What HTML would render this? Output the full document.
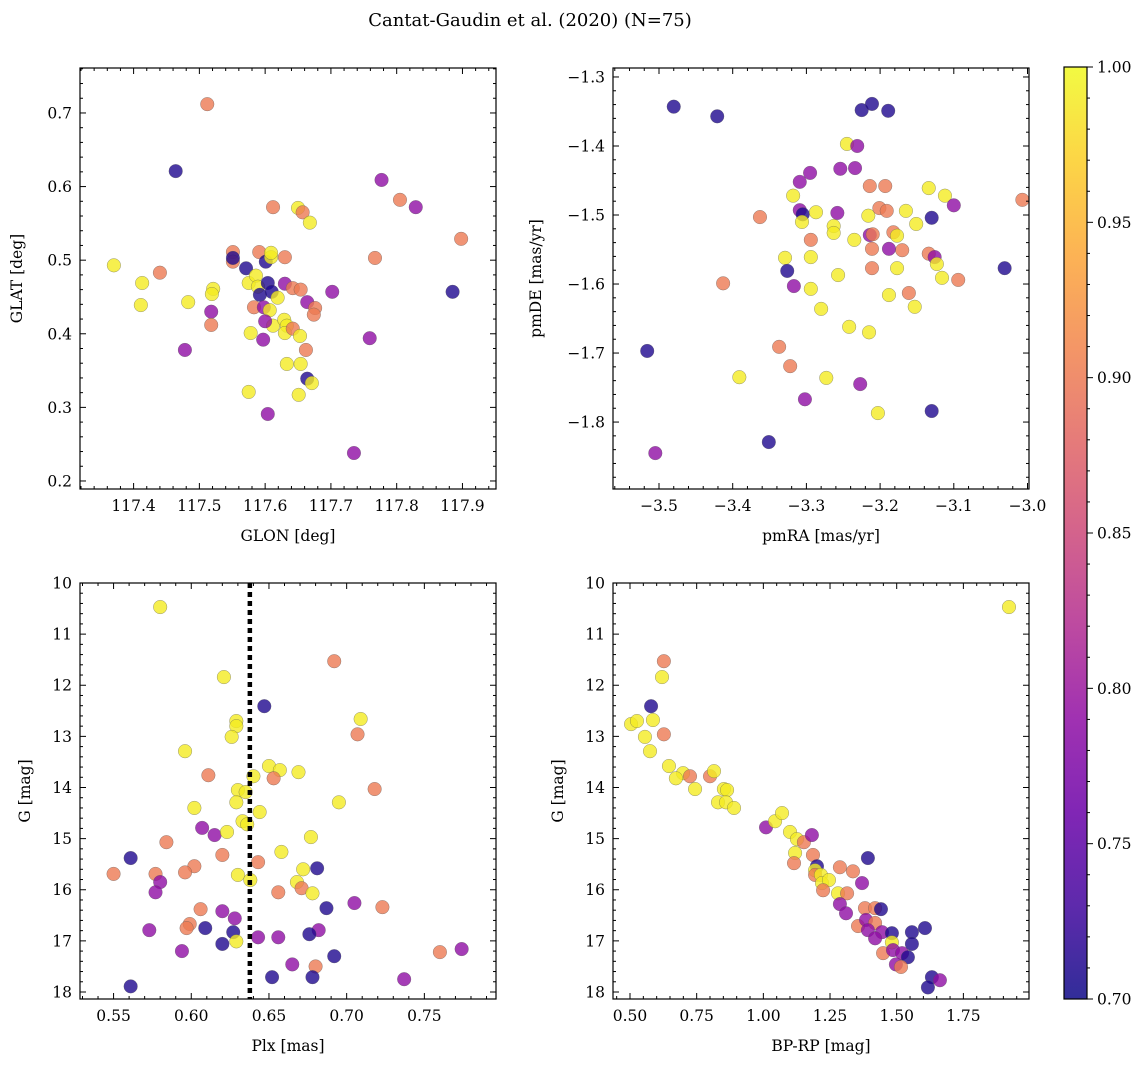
<!DOCTYPE html>
<html><head><meta charset="utf-8">
<style>
html,body{margin:0;padding:0;background:#fff;}
svg text{font-family:"DejaVu Serif","Liberation Serif",serif;fill:#000;}
</style></head>
<body>
<svg id="fig" width="1148" height="1067" viewBox="0 0 1148 1067" xmlns="http://www.w3.org/2000/svg">
<text x="530" y="26" font-size="18" text-anchor="middle">Cantat-Gaudin et al. (2020) (N=75)</text>
</svg>
<script>
// ---- data (Y≈0.99, O≈0.90, M≈0.79, D≈0.71) ----
const glon=[117.512,117.464,117.777,117.805,117.829,117.898,117.612,117.650,117.657,117.668,117.370,117.413,117.440,117.411,117.483,117.521,117.519,117.478,117.518,117.518,117.551,117.551,117.551,117.571,117.591,117.601,117.609,117.630,117.575,117.586,117.589,117.592,117.604,117.610,117.619,117.630,117.642,117.654,117.583,117.598,117.607,117.612,117.600,117.578,117.597,117.664,117.676,117.674,117.702,117.629,117.633,117.630,117.642,117.653,117.662,117.633,117.654,117.664,117.671,117.575,117.651,117.604,117.735,117.759,117.767,117.885,117.609];
const glat=[0.712,0.621,0.609,0.582,0.572,0.529,0.572,0.571,0.565,0.551,0.493,0.469,0.483,0.439,0.443,0.461,0.454,0.378,0.430,0.412,0.511,0.498,0.503,0.489,0.511,0.498,0.504,0.504,0.469,0.479,0.464,0.453,0.469,0.457,0.449,0.468,0.462,0.460,0.436,0.436,0.432,0.411,0.417,0.401,0.392,0.443,0.435,0.426,0.457,0.419,0.411,0.401,0.407,0.397,0.378,0.359,0.359,0.339,0.333,0.321,0.317,0.291,0.238,0.394,0.503,0.457,0.510];
const probPos=[0.90,0.71,0.79,0.90,0.79,0.90,0.90,0.99,0.90,0.99,0.99,0.99,0.90,0.99,0.99,0.99,0.99,0.79,0.79,0.90,0.90,0.90,0.71,0.71,0.90,0.71,0.99,0.90,0.99,0.99,0.99,0.71,0.71,0.71,0.99,0.79,0.90,0.90,0.90,0.79,0.99,0.99,0.79,0.99,0.79,0.79,0.90,0.90,0.79,0.99,0.99,0.99,0.90,0.99,0.90,0.99,0.99,0.71,0.99,0.99,0.99,0.79,0.79,0.79,0.90,0.71,0.99];

const pmra=[-3.480,-3.421,-3.225,-3.211,-3.189,-3.245,-3.231,-3.295,-3.254,-3.234,-3.309,-3.318,-3.214,-3.193,-3.134,-3.112,-3.100,-3.007,-3.363,-3.309,-3.305,-3.287,-3.306,-3.258,-3.263,-3.263,-3.216,-3.201,-3.191,-3.165,-3.151,-3.130,-3.235,-3.294,-3.214,-3.210,-3.182,-3.170,-3.188,-3.211,-3.177,-3.134,-3.126,-3.123,-3.116,-3.094,-3.031,-3.211,-3.177,-3.257,-3.294,-3.329,-3.326,-3.294,-3.317,-3.280,-3.188,-3.161,-3.153,-3.413,-3.242,-3.215,-3.516,-3.337,-3.322,-3.391,-3.273,-3.227,-3.302,-3.203,-3.130,-3.351,-3.505];
const pmde=[-1.343,-1.357,-1.348,-1.339,-1.349,-1.397,-1.400,-1.439,-1.433,-1.432,-1.452,-1.472,-1.458,-1.458,-1.461,-1.472,-1.486,-1.478,-1.503,-1.493,-1.499,-1.496,-1.510,-1.497,-1.516,-1.526,-1.501,-1.490,-1.494,-1.494,-1.513,-1.504,-1.536,-1.536,-1.529,-1.528,-1.525,-1.551,-1.549,-1.549,-1.530,-1.556,-1.561,-1.571,-1.591,-1.594,-1.577,-1.577,-1.577,-1.587,-1.561,-1.562,-1.581,-1.607,-1.603,-1.636,-1.616,-1.613,-1.633,-1.599,-1.662,-1.670,-1.697,-1.691,-1.719,-1.735,-1.736,-1.745,-1.767,-1.787,-1.784,-1.829,-1.845];
const probPm=[0.71,0.71,0.71,0.71,0.71,0.99,0.79,0.79,0.79,0.79,0.79,0.99,0.90,0.90,0.99,0.99,0.79,0.90,0.90,0.79,0.71,0.99,0.99,0.79,0.99,0.99,0.99,0.90,0.90,0.99,0.99,0.71,0.99,0.90,0.79,0.90,0.90,0.90,0.79,0.90,0.99,0.90,0.79,0.99,0.99,0.90,0.71,0.90,0.99,0.99,0.99,0.99,0.71,0.99,0.79,0.99,0.99,0.90,0.99,0.90,0.99,0.99,0.71,0.90,0.90,0.99,0.99,0.79,0.79,0.99,0.71,0.71,0.79];

const plx=[0.580,0.692,0.621,0.647,0.629,0.629,0.709,0.707,0.626,0.596,0.650,0.657,0.669,0.611,0.640,0.653,0.630,0.635,0.629,0.718,0.695,0.602,0.644,0.633,0.636,0.677,0.607,0.615,0.623,0.584,0.620,0.658,0.561,0.643,0.602,0.681,0.672,0.550,0.577,0.596,0.630,0.638,0.580,0.668,0.577,0.671,0.656,0.678,0.687,0.705,0.723,0.606,0.620,0.628,0.599,0.597,0.609,0.573,0.627,0.682,0.676,0.629,0.643,0.656,0.620,0.594,0.692,0.665,0.760,0.774,0.680,0.652,0.678,0.737,0.561];
const gmagA=[10.47,11.53,11.84,12.41,12.70,12.80,12.66,12.96,13.01,13.29,13.58,13.66,13.70,13.76,13.78,13.82,14.05,14.09,14.29,14.03,14.29,14.40,14.48,14.66,14.72,14.97,14.79,14.93,14.87,15.07,15.32,15.26,15.38,15.46,15.54,15.58,15.60,15.69,15.69,15.66,15.71,15.81,15.85,15.85,16.05,15.97,16.05,16.07,16.36,16.26,16.34,16.38,16.42,16.56,16.67,16.75,16.75,16.79,16.83,16.79,16.87,17.01,16.93,16.93,17.06,17.20,17.30,17.46,17.22,17.16,17.50,17.71,17.71,17.75,17.89];
const probPlx=[0.99,0.90,0.99,0.71,0.99,0.99,0.99,0.90,0.99,0.99,0.99,0.99,0.99,0.90,0.99,0.90,0.99,0.99,0.99,0.90,0.99,0.99,0.99,0.99,0.99,0.99,0.79,0.79,0.99,0.90,0.90,0.99,0.71,0.90,0.90,0.71,0.99,0.90,0.90,0.90,0.99,0.99,0.79,0.99,0.79,0.90,0.90,0.99,0.71,0.79,0.90,0.90,0.79,0.79,0.90,0.90,0.71,0.79,0.71,0.79,0.71,0.99,0.79,0.79,0.71,0.79,0.71,0.79,0.90,0.79,0.90,0.71,0.71,0.79,0.71];
const plxCut=0.6377;

const bprp=[1.921,0.627,0.620,0.579,0.504,0.526,0.586,0.556,0.627,0.575,0.646,0.699,0.725,0.672,0.744,0.800,0.815,0.852,0.864,0.830,0.860,0.890,1.010,1.044,1.070,1.100,1.126,1.152,1.182,1.119,1.115,1.186,1.201,1.194,1.194,1.216,1.220,1.246,1.224,1.287,1.336,1.392,1.370,1.280,1.314,1.287,1.310,1.381,1.419,1.441,1.355,1.385,1.419,1.392,1.445,1.419,1.482,1.482,1.449,1.486,1.520,1.542,1.497,1.516,1.557,1.606,1.557,1.632,1.617,1.662];
const gmagB=[10.47,11.53,11.84,12.41,12.76,12.70,12.68,13.01,12.96,13.29,13.58,13.72,13.78,13.82,14.03,13.78,13.68,14.03,14.05,14.29,14.29,14.40,14.78,14.66,14.50,14.87,15.01,15.07,14.93,15.28,15.48,15.32,15.54,15.62,15.71,15.71,15.87,15.81,16.01,15.56,15.64,15.38,15.87,16.07,16.07,16.28,16.46,16.36,16.36,16.38,16.71,16.59,16.65,16.79,16.83,16.95,16.85,17.03,17.24,17.18,17.24,17.32,17.46,17.51,16.83,16.75,17.06,17.71,17.91,17.77];
const probCmd=[0.99,0.90,0.99,0.71,0.99,0.99,0.99,0.99,0.90,0.99,0.99,0.99,0.90,0.99,0.99,0.90,0.99,0.99,0.99,0.99,0.99,0.99,0.79,0.99,0.99,0.99,0.99,0.90,0.79,0.99,0.90,0.90,0.71,0.99,0.90,0.99,0.99,0.99,0.90,0.90,0.90,0.71,0.79,0.99,0.90,0.79,0.79,0.90,0.90,0.71,0.90,0.79,0.90,0.79,0.79,0.79,0.71,0.99,0.90,0.79,0.79,0.71,0.79,0.90,0.71,0.71,0.71,0.71,0.71,0.79];

const cbTicks=[0.70,0.75,0.80,0.85,0.90,0.95,1.00];

// ---- plasma colormap ----
const plasma=["#0d0887","#41049d","#6a00a8","#8f0da4","#b12a90","#cc4778","#e16462","#f2844b","#fca636","#fcce25","#f0f921"];
function hex(h){return [parseInt(h.slice(1,3),16),parseInt(h.slice(3,5),16),parseInt(h.slice(5,7),16)];}
function cmap(v){let t=(v-0.7)/0.3;t=Math.max(0,Math.min(1,t));const f=t*10,i=Math.min(9,Math.floor(f)),r=f-i;const a=hex(plasma[i]),b=hex(plasma[i+1]);return 'rgb('+a.map((c,k)=>Math.round(c+(b[k]-c)*r)).join(',')+')';}

const NS='http://www.w3.org/2000/svg';
const svg=document.getElementById('fig');
function mk(tag,attrs,parent){const e=document.createElementNS(NS,tag);for(const k in attrs)e.setAttribute(k,attrs[k]);(parent||svg).appendChild(e);return e;}
function fmt(v,d){return (v<0?'\u2212':'')+Math.abs(v).toFixed(d);}
const TFS=15.5, LFS=15.5;

function panel(o){
  const g=mk('g',{});
  
  
  const sx=v=>o.L+(v-o.x0)/(o.x1-o.x0)*o.W;
  const sy=v=>o.T+(v-o.y0)/(o.y1-o.y0)*o.H;
  const pg=mk('g',{},g);
  
  
  for(let i=0;i<o.xs.length;i++){
    const c=mk('circle',{cx:sx(o.xs[i]),cy:sy(o.ys[i]),r:6.8,fill:cmap(o.ps[i]),'fill-opacity':0.8,stroke:'#555','stroke-opacity':0.6,'stroke-width':0.5},pg);
    
    
  }
  if(o.vline!==undefined){
    const l=mk('line',{x1:sx(o.vline),x2:sx(o.vline),y1:o.T,y2:o.T+o.H,stroke:'#000','stroke-width':4.5,'stroke-dasharray':'5,4'},g);
    
    
  }
  const tg=mk('g',{stroke:'#000','stroke-width':1},g);
  
  
  const lo=Math.min(o.x0,o.x1),hi=Math.max(o.x0,o.x1);
  for(let k=Math.ceil(lo/o.xm-1e-6);k*o.xm<=hi+1e-9;k++){const v=k*o.xm,x=sx(v);const maj=Math.abs(v/o.xM-Math.round(v/o.xM))<1e-6;const len=maj?6:3;
    mk('line',{x1:x,x2:x,y1:o.T+o.H,y2:o.T+o.H-len},tg);mk('line',{x1:x,x2:x,y1:o.T,y2:o.T+len},tg);
    if(maj){const t=mk('text',{x:x,y:o.T+o.H+22,'font-size':TFS,'text-anchor':'middle',stroke:'none'},g);t.textContent=fmt(v,o.xd);}}
  const ylo=Math.min(o.y0,o.y1),yhi=Math.max(o.y0,o.y1);
  for(let k=Math.ceil(ylo/o.ym-1e-6);k*o.ym<=yhi+1e-9;k++){const v=k*o.ym,y=sy(v);const maj=Math.abs(v/o.yM-Math.round(v/o.yM))<1e-6;const len=maj?6:3;
    mk('line',{x1:o.L,x2:o.L+len,y1:y,y2:y},tg);mk('line',{x1:o.L+o.W,x2:o.L+o.W-len,y1:y,y2:y},tg);
    if(maj){const t=mk('text',{x:o.L-8,y:y+5.5,'font-size':TFS,'text-anchor':'end',stroke:'none'},g);t.textContent=fmt(v,o.yd);}}
  const fr=mk('rect',{x:o.L,y:o.T,width:o.W,height:o.H,fill:'none',stroke:'#000','stroke-width':1.2},g);
  
  
  const xl=mk('text',{x:o.L+o.W/2,y:o.T+o.H+52,'font-size':LFS,'text-anchor':'middle'},g);xl.textContent=o.xl;
  
  
  const yx=o.L-o.ylo, yy=o.T+o.H/2;
  const yl=mk('text',{x:yx,y:yy,'font-size':LFS,'text-anchor':'middle',transform:'rotate(-90 '+yx+' '+yy+')'},g);yl.textContent=o.yl;
  
  
}

panel({name:'glon-glat-panel',L:80,T:68,W:416,H:421,x0:117.3185,x1:117.951,y0:0.7611,y1:0.1891,xM:0.1,xm:0.02,yM:0.1,ym:0.02,xd:1,yd:1,xs:glon,ys:glat,ps:probPos,xl:'GLON [deg]',yl:'GLAT [deg]',ylo:58});
panel({name:'proper-motion-panel',L:613,T:68,W:416,H:421,x0:-3.5+(613-659)/737,x1:-3.5+(1029-659)/737,y0:-1.287,y1:-1.897,xM:0.1,xm:0.02,yM:0.1,ym:0.02,xd:1,yd:1,xs:pmra,ys:pmde,ps:probPm,xl:'pmRA [mas/yr]',yl:'pmDE [mas/yr]',ylo:72});
panel({name:'parallax-mag-panel',L:80,T:583,W:416,H:416,x0:0.5284,x1:0.7961,y0:10,y1:18.137,xM:0.05,xm:0.01,yM:1,ym:0.2,xd:2,yd:0,xs:plx,ys:gmagA,ps:probPlx,xl:'Plx [mas]',yl:'G [mag]',ylo:50,vline:plxCut});
panel({name:'cmd-panel',L:613,T:583,W:416,H:416,x0:0.5+(613-630)/266.7,x1:0.5+(1029-630)/266.7,y0:10,y1:18.137,xM:0.25,xm:0.05,yM:1,ym:0.2,xd:2,yd:0,xs:bprp,ys:gmagB,ps:probCmd,xl:'BP-RP [mag]',yl:'G [mag]',ylo:50});

// ---- colorbar ----
const cb=mk('g',{});


const defs=mk('defs',{},cb);
const grad=mk('linearGradient',{id:'plasmaG',x1:0,y1:1,x2:0,y2:0},defs);
plasma.forEach((c,i)=>mk('stop',{offset:(i*10)+'%','stop-color':c,'stop-opacity':0.85},grad));
const CBL=1064,CBT=67,CBW=23,CBH=932;
const cby=v=>CBT+CBH-(v-0.7)/0.3*CBH;
const cr=mk('rect',{x:CBL,y:CBT,width:CBW,height:CBH,fill:'url(#plasmaG)',stroke:'#000','stroke-width':1.2},cb);


for(let k=70;k<=100;k++){const y=cby(k/100);const maj=k%5===0;mk('line',{x1:CBL+CBW,x2:CBL+CBW+(maj?6:3),y1:y,y2:y,stroke:'#000','stroke-width':1},cb);}
cbTicks.forEach(v=>{const t=mk('text',{x:CBL+CBW+10,y:cby(v)+5.5,'font-size':TFS},cb);t.textContent=v.toFixed(2);
  
  });
</script>
</body></html>
